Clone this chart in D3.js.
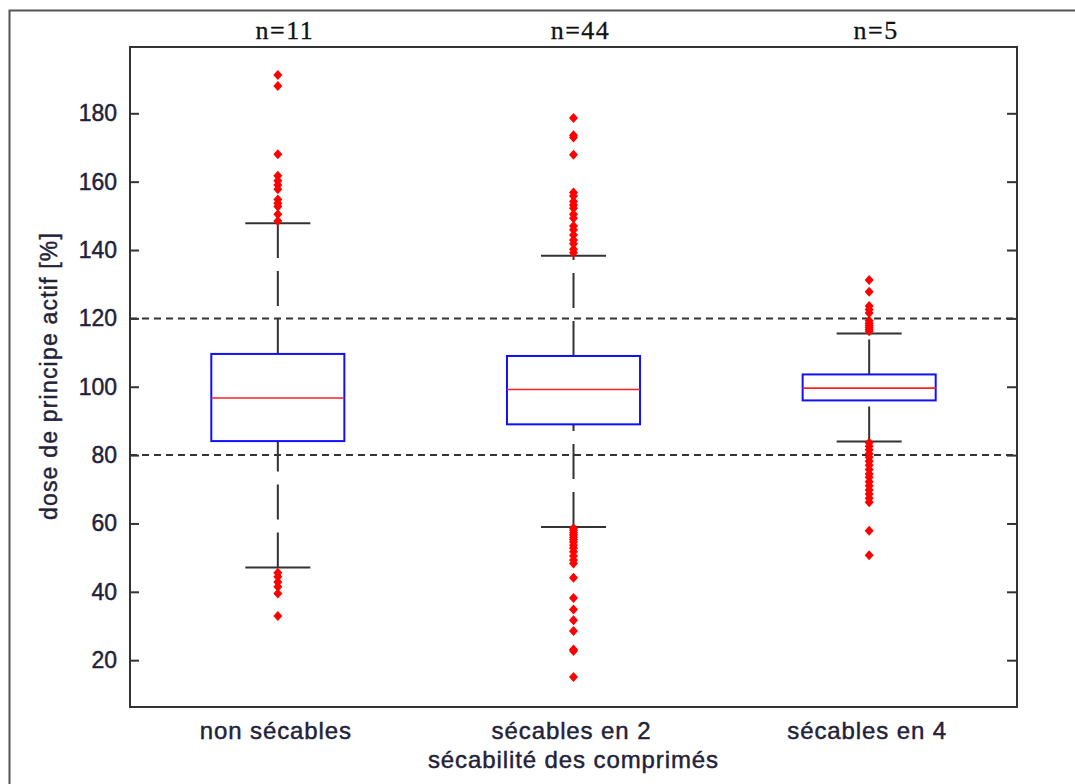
<!DOCTYPE html>
<html>
<head>
<meta charset="utf-8">
<script src="https://cdn.jsdelivr.net/npm/d3@7/dist/d3.min.js"></script>
<style>
  html, body { margin: 0; padding: 0; background: #fff; }
  svg { display: block; }
</style>
</head>
<body>
<svg id="chart" width="1075" height="784"></svg>
<script>
// ---------- data ----------
const categories = ["non sécables", "sécables en 2", "sécables en 4"];
const counts = ["n=11", "n=44", "n=5"];
const q1 = [84.1, 89.0, 96.0];
const medians = [96.7, 99.2, 99.6];
const q3 = [109.6, 109.0, 103.6];
const lowerWhisker = [47.1, 59.0, 84.0];
const upperWhisker = [147.8, 138.3, 115.6];
const outliers1 = [191.2, 188.0, 168.0, 161.7, 160.3, 159.0, 157.8, 154.8, 153.7, 152.7, 150.5, 148.5,
                   45.6, 44.4, 42.9, 41.5, 39.5, 32.9];
const outliers2 = [178.6, 173.6, 172.9, 167.9, 156.8, 155.8, 154.2, 153.2, 152.2, 150.5, 149.3, 147.0,
                   145.9, 144.4, 142.9, 141.8, 140.2, 139.2,
                   58.6, 58.0, 57.3, 56.6, 56.0, 55.3, 54.6, 53.6, 52.8, 51.7, 50.5, 49.3, 48.3,
                   44.1, 38.2, 34.8, 31.7, 28.5, 23.1, 22.7, 15.1];
const outliers3 = [131.2, 127.8, 123.6, 122.6, 121.6, 119.3, 118.6, 118.0, 117.4, 116.8, 116.2,
                   83.6, 82.6, 81.6, 80.4, 79.4, 78.2, 77.0, 75.8, 74.5, 73.5, 72.2, 71.0, 69.8,
                   68.6, 67.4, 66.2, 57.9, 50.7];
const outliers = [outliers1, outliers2, outliers3];
const refLines = [80, 120];
const yTicks = [20, 40, 60, 80, 100, 120, 140, 160, 180];
const yLabel = "dose de principe actif [%]";
const xLabel = "sécabilité des comprimés";

// ---------- layout ----------
const svg = d3.select("#chart");
const L = 130, T = 47, R = 1017, B = 707;

const x = d3.scaleLinear().domain([0.5, 3.5]).range([L, R]);
const y = d3.scaleLinear().domain([6.3, 199.4]).range([B, T]);

// outer figure frame
svg.append("rect")
  .attr("x", 9.5).attr("y", 10.5).attr("width", 1100).attr("height", 800)
  .attr("fill", "none").attr("stroke", "#555").attr("stroke-width", 2);

const tickFont = "'Liberation Sans', Arial, sans-serif";
const textColor = "#22223a";

// reference dashed lines
svg.selectAll(".ref").data(refLines).enter().append("line")
  .attr("x1", L).attr("x2", R)
  .attr("y1", d => y(d)).attr("y2", d => y(d))
  .attr("stroke", "#333").attr("stroke-width", 2)
  .attr("stroke-dasharray", "7,5");

// axes (ticks inward on left and right)
const yAxisL = d3.axisLeft(y).tickValues(yTicks).tickSize(-9).tickPadding(13).tickFormat(d3.format("d"));
const gL = svg.append("g").attr("transform", `translate(${L},0)`).call(yAxisL);
gL.select(".domain").remove();
gL.selectAll(".tick line").attr("stroke", "#333").attr("stroke-width", 2);
gL.selectAll(".tick text")
  .attr("font-family", tickFont).attr("font-size", 23).attr("fill", textColor)
  .attr("stroke", textColor).attr("stroke-width", 0.45);

const yAxisR = d3.axisRight(y).tickValues(yTicks).tickSize(-10).tickFormat("");
const gR = svg.append("g").attr("transform", `translate(${R},0)`).call(yAxisR);
gR.select(".domain").remove();
gR.selectAll(".tick line").attr("stroke", "#333").attr("stroke-width", 2);

// x category labels
svg.selectAll(".xcat").data(categories).enter().append("text")
  .attr("x", (d, i) => x(i + 1) - 2)
  .attr("y", 739)
  .attr("text-anchor", "middle")
  .attr("font-family", tickFont).attr("font-size", 24)
  .attr("letter-spacing", "0.9px")
  .attr("fill", textColor).attr("stroke", textColor).attr("stroke-width", 0.45)
  .text(d => d);

svg.append("text")
  .attr("x", x(2)).attr("y", 768)
  .attr("text-anchor", "middle")
  .attr("font-family", tickFont).attr("font-size", 24)
  .attr("letter-spacing", "0.9px")
  .attr("fill", textColor).attr("stroke", textColor).attr("stroke-width", 0.45)
  .text(xLabel);

// y label
svg.append("text")
  .attr("transform", `translate(57,376) rotate(-90)`)
  .attr("text-anchor", "middle")
  .attr("font-family", tickFont).attr("font-size", 23)
  .attr("letter-spacing", "1.2px")
  .attr("fill", textColor).attr("stroke", textColor).attr("stroke-width", 0.45)
  .text(yLabel);

// n= labels
svg.selectAll(".ncount").data(counts).enter().append("text")
  .attr("x", (d, i) => x(i + 1) + 7)
  .attr("y", 39)
  .attr("text-anchor", "middle")
  .attr("font-family", "'Liberation Serif', 'Times New Roman', serif")
  .attr("font-size", 26)
  .attr("letter-spacing", "1.5px")
  .attr("fill", "#111").attr("stroke", "#111").attr("stroke-width", 0.3)
  .text(d => d);

// boxplots
const boxW = 0.45, capW = 0.22;
const idx = [0, 1, 2];
const g = svg.append("g");

// whiskers (drawn from lower screen point upward so dash phase matches)
g.selectAll(".wl").data(idx).enter().append("line")
  .attr("x1", i => x(i + 1)).attr("x2", i => x(i + 1))
  .attr("y1", i => y(lowerWhisker[i])).attr("y2", i => y(q1[i]))
  .attr("stroke", "#333").attr("stroke-width", 2).attr("stroke-dasharray", "35,13");
g.selectAll(".wu").data(idx).enter().append("line")
  .attr("x1", i => x(i + 1)).attr("x2", i => x(i + 1))
  .attr("y1", i => y(q3[i])).attr("y2", i => y(upperWhisker[i]))
  .attr("stroke", "#333").attr("stroke-width", 2).attr("stroke-dasharray", "35,13");

// caps
[lowerWhisker, upperWhisker].forEach(arr => {
  g.selectAll(null).data(idx).enter().append("line")
    .attr("x1", i => x(i + 1 - capW / 2)).attr("x2", i => x(i + 1 + capW / 2))
    .attr("y1", i => y(arr[i])).attr("y2", i => y(arr[i]))
    .attr("stroke", "#333").attr("stroke-width", 2);
});

// boxes
g.selectAll(".box").data(idx).enter().append("rect")
  .attr("x", i => x(i + 1 - boxW / 2))
  .attr("width", i => x(i + 1 + boxW / 2) - x(i + 1 - boxW / 2))
  .attr("y", i => y(q3[i]))
  .attr("height", i => y(q1[i]) - y(q3[i]))
  .attr("fill", "none").attr("stroke", "#1010ff").attr("stroke-width", 2);

// medians
g.selectAll(".med").data(idx).enter().append("line")
  .attr("x1", i => x(i + 1 - boxW / 2)).attr("x2", i => x(i + 1 + boxW / 2))
  .attr("y1", i => y(medians[i])).attr("y2", i => y(medians[i]))
  .attr("stroke", "#ff2020").attr("stroke-width", 1.6);

// outliers (red diamonds)
const diamond = "M0,-5L4.5,0L0,5L-4.5,0Z";
outliers.forEach((arr, i) => {
  g.selectAll(null).data(arr).enter().append("path")
    .attr("d", diamond)
    .attr("transform", d => `translate(${x(i + 1)},${y(d)})`)
    .attr("fill", "#ff0000").attr("stroke", "none");
});

// plot frame
svg.append("rect")
  .attr("x", L).attr("y", T).attr("width", R - L).attr("height", B - T)
  .attr("fill", "none").attr("stroke", "#333").attr("stroke-width", 2);
</script>
</body>
</html>
